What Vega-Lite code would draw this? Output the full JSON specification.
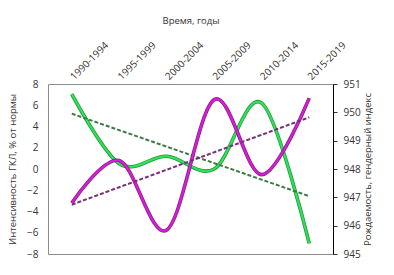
{
  "$schema": "https://vega.github.io/schema/vega-lite/v6.json",
  "autosize": {"type": "none"},
  "padding": {"left": 48, "top": 84, "right": 61, "bottom": 21},
  "width": 285,
  "height": 170,
  "background": "white",
  "config": {
    "font": "Open Sans",
    "view": {"stroke": "#8c8c8c", "strokeWidth": 1},
    "axis": {"labelFont": "Open Sans", "titleFont": "Open Sans", "labelColor": "#333", "titleColor": "#333", "labelFontSize": 10, "titleFontSize": 9.5, "titleFontWeight": "normal", "grid": false}
  },
  "datasets": {
    "d": [
      {"period": "1990-1994", "i": 1, "intensity": 7.05, "ratio": 946.8},
      {"period": "1995-1999", "i": 2, "intensity": 0.5, "ratio": 948.3},
      {"period": "2000-2004", "i": 3, "intensity": 1.2, "ratio": 945.85},
      {"period": "2005-2009", "i": 4, "intensity": 0.0, "ratio": 950.45},
      {"period": "2010-2014", "i": 5, "intensity": 6.2, "ratio": 947.8},
      {"period": "2015-2019", "i": 6, "intensity": -7.0, "ratio": 950.5}
    ]
  },
  "data": {"name": "d"},
  "encoding": {
    "x": {
      "field": "period", "type": "ordinal",
      "scale": {"type": "point", "padding": 0.5},
      "axis": {"orient": "top", "title": "Время, годы", "labelAngle": -45, "labelAlign": "left", "labelBaseline": "middle", "domain": false, "ticks": false, "labelPadding": 6, "titlePadding": 14}
    }
  },
  "layer": [
    {
      "encoding": {
        "y": {"field": "intensity", "type": "quantitative",
          "scale": {"domain": [-8, 8], "nice": false, "zero": false},
          "axis": {"orient": "left", "title": "Интенсивность ГКЛ, % от нормы", "values": [-8, -6, -4, -2, 0, 2, 4, 6, 8], "ticks": false, "domain": false, "labelPadding": 10, "titlePadding": 9}}
      },
      "layer": [
        {"mark": {"type": "line", "interpolate": "cardinal", "color": "#1f9a3a", "strokeWidth": 3.6}},
        {"mark": {"type": "line", "interpolate": "cardinal", "color": "#33e05a", "strokeWidth": 2}},
        {
          "transform": [
            {"regression": "intensity", "on": "i"},
            {"lookup": "i", "from": {"data": {"name": "d"}, "key": "i", "fields": ["period"]}}
          ],
          "mark": {"type": "line", "color": "#3d7a45", "strokeWidth": 2, "strokeDash": [4, 2]}
        }
      ]
    },
    {
      "encoding": {
        "y": {"field": "ratio", "type": "quantitative",
          "scale": {"domain": [945, 951], "nice": false, "zero": false},
          "axis": {"orient": "right", "title": "Рождаемость, гендерный индекс", "values": [945, 946, 947, 948, 949, 950, 951], "domainColor": "#000", "tickColor": "#333", "tickSize": 4, "labelPadding": 6, "titleAngle": -90, "titlePadding": 12}}
      },
      "layer": [
        {"mark": {"type": "line", "interpolate": "cardinal", "color": "#8e1a8e", "strokeWidth": 3.6}},
        {"mark": {"type": "line", "interpolate": "cardinal", "color": "#d61fd6", "strokeWidth": 2}},
        {
          "transform": [
            {"regression": "ratio", "on": "i"},
            {"lookup": "i", "from": {"data": {"name": "d"}, "key": "i", "fields": ["period"]}}
          ],
          "mark": {"type": "line", "color": "#7a2d7a", "strokeWidth": 2, "strokeDash": [4, 2]}
        }
      ]
    }
  ],
  "resolve": {"scale": {"y": "independent"}}
}
